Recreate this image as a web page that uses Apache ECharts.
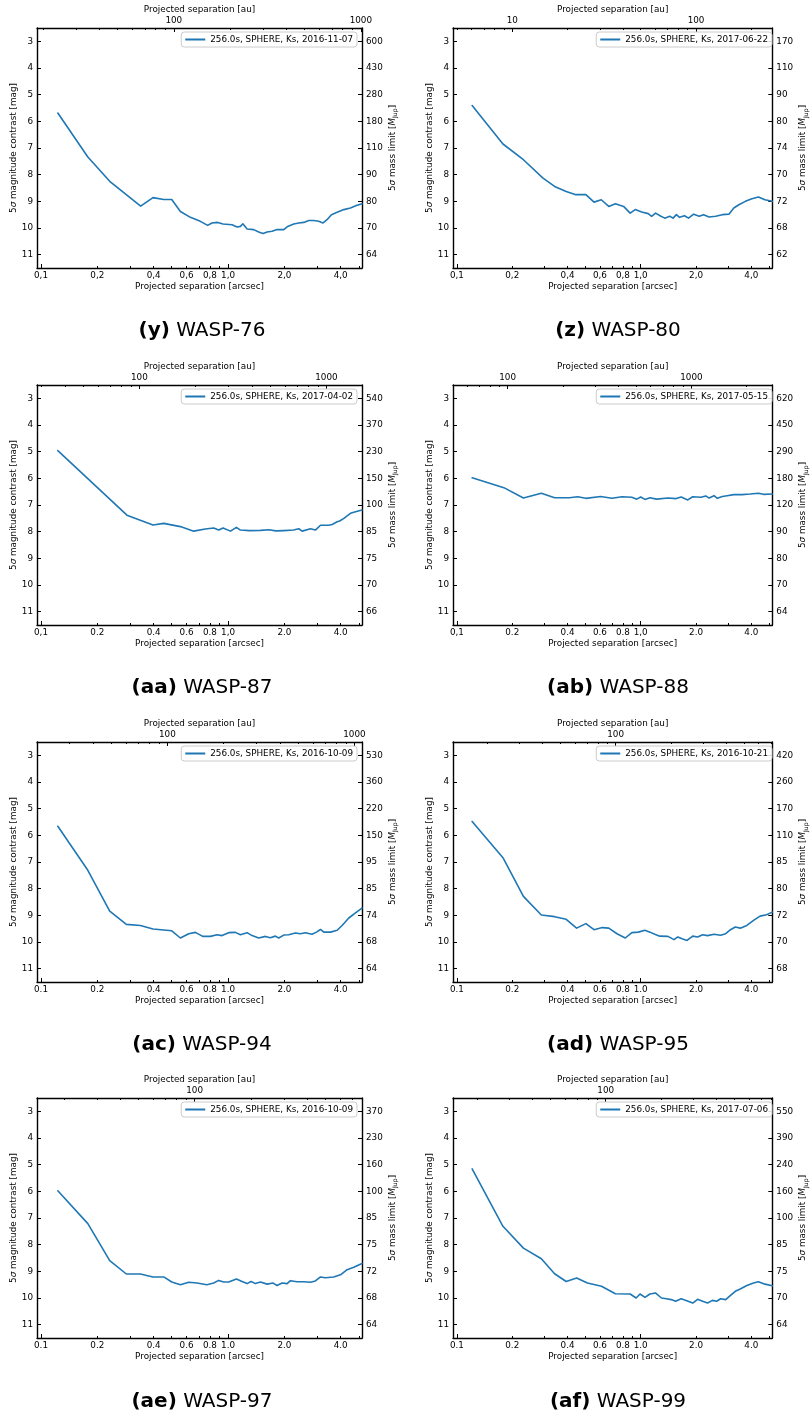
<!DOCTYPE html>
<html><head><meta charset="utf-8">
<script src="https://cdn.jsdelivr.net/npm/echarts@6/dist/echarts.min.js"></script>
<style>html,body{margin:0;padding:0;background:#fff}#c{width:810px;height:1419px}</style>
</head><body><div id="c"></div>
<script>
// ---------- data ----------
const sep_y = [0.123,0.178,0.233,0.341,0.397,0.453,0.500,0.556,0.629,0.711,0.778,0.820,0.880,0.940,1.05,1.117,1.164,1.20,1.264,1.371,1.458,1.538,1.617,1.719,1.828,1.985,2.083,2.244,2.387,2.436,2.54,2.70,2.87,2.93,3.05,3.22,3.38,3.57,3.83,4.16,4.51,4.85,5.2];
const mag_y = [5.69,7.34,8.25,9.18,8.86,8.93,8.93,9.38,9.60,9.75,9.90,9.81,9.79,9.85,9.88,9.96,9.94,9.84,10.04,10.06,10.15,10.21,10.15,10.12,10.06,10.06,9.94,9.85,9.81,9.75,9.79,9.72,9.72,9.66,9.75,9.81,9.69,9.50,9.41,9.31,9.25,9.16,9.09];
const sep_z = [0.121,0.178,0.230,0.294,0.340,0.393,0.444,0.503,0.557,0.610,0.670,0.728,0.807,0.876,0.933,1.012,1.099,1.146,1.205,1.288,1.352,1.439,1.50,1.563,1.627,1.731,1.82,1.942,2.081,2.198,2.356,2.558,2.78,3.02,3.21,3.42,3.71,4.03,4.37,4.74,5.2];
const mag_z = [5.41,6.85,7.44,8.13,8.44,8.63,8.75,8.75,9.03,8.94,9.19,9.09,9.19,9.44,9.31,9.40,9.46,9.56,9.44,9.56,9.63,9.56,9.63,9.50,9.60,9.54,9.63,9.48,9.56,9.50,9.59,9.56,9.50,9.48,9.25,9.13,9.00,8.90,8.84,8.94,9.00];
const sep_aa = [0.123,0.288,0.397,0.453,0.556,0.655,0.756,0.838,0.891,0.940,1.03,1.108,1.164,1.30,1.489,1.65,1.80,1.985,2.244,2.387,2.489,2.757,2.93,3.12,3.45,3.60,3.83,3.95,4.16,4.51,4.80,5.2];
const mag_aa = [4.96,7.38,7.75,7.69,7.81,7.98,7.90,7.86,7.94,7.86,7.98,7.84,7.94,7.96,7.95,7.93,7.97,7.96,7.94,7.89,7.98,7.89,7.94,7.76,7.76,7.73,7.63,7.60,7.50,7.31,7.25,7.19];
const sep_ab = [0.121,0.180,0.230,0.288,0.340,0.409,0.454,0.503,0.605,0.698,0.791,0.895,0.951,1.0,1.055,1.122,1.219,1.407,1.56,1.66,1.803,1.918,2.125,2.26,2.356,2.506,2.611,2.78,2.95,3.21,3.56,3.94,4.37,4.65,5.2];
const mag_ab = [5.98,6.35,6.74,6.56,6.73,6.73,6.69,6.75,6.68,6.75,6.69,6.71,6.78,6.70,6.79,6.73,6.78,6.74,6.76,6.70,6.81,6.69,6.71,6.66,6.74,6.65,6.75,6.68,6.65,6.61,6.61,6.59,6.56,6.60,6.59];
const sep_ac = [0.123,0.178,0.233,0.286,0.340,0.397,0.500,0.556,0.616,0.669,0.732,0.805,0.873,0.928,1.008,1.094,1.164,1.264,1.343,1.458,1.585,1.683,1.79,1.866,1.985,2.11,2.29,2.436,2.59,2.81,2.97,3.12,3.25,3.53,3.83,4.07,4.42,4.8,5.2];
const mag_ac = [5.66,7.31,8.84,9.34,9.38,9.51,9.58,9.85,9.69,9.64,9.79,9.79,9.73,9.76,9.65,9.64,9.73,9.65,9.76,9.85,9.79,9.84,9.78,9.85,9.74,9.73,9.66,9.69,9.65,9.71,9.63,9.53,9.63,9.63,9.56,9.38,9.10,8.91,8.73];
const sep_ad = [0.121,0.178,0.230,0.288,0.340,0.393,0.448,0.503,0.557,0.618,0.670,0.743,0.824,0.895,0.970,1.055,1.122,1.193,1.27,1.407,1.517,1.592,1.68,1.786,1.918,2.04,2.17,2.31,2.506,2.72,2.90,3.08,3.27,3.48,3.78,4.11,4.46,4.84,5.2];
const mag_ad = [5.48,6.84,8.29,8.99,9.05,9.15,9.48,9.31,9.54,9.46,9.48,9.69,9.85,9.65,9.63,9.56,9.63,9.71,9.78,9.79,9.91,9.81,9.88,9.94,9.78,9.81,9.73,9.76,9.71,9.75,9.69,9.54,9.44,9.48,9.38,9.19,9.03,8.98,8.88];
const sep_ae = [0.123,0.178,0.233,0.286,0.340,0.397,0.453,0.500,0.556,0.616,0.682,0.771,0.838,0.891,0.948,1.008,1.108,1.188,1.264,1.327,1.40,1.489,1.617,1.741,1.828,1.945,2.07,2.155,2.337,2.54,2.757,2.93,3.12,3.31,3.67,3.99,4.33,4.70,5.2];
const mag_ae = [5.98,7.21,8.60,9.10,9.10,9.21,9.21,9.40,9.50,9.41,9.44,9.50,9.44,9.34,9.40,9.40,9.29,9.38,9.46,9.38,9.46,9.40,9.48,9.44,9.53,9.44,9.46,9.35,9.39,9.39,9.41,9.36,9.21,9.24,9.21,9.13,8.94,8.85,8.71];
const sep_af = [0.121,0.178,0.230,0.288,0.340,0.393,0.448,0.513,0.612,0.728,0.876,0.944,0.991,1.055,1.122,1.202,1.297,1.38,1.466,1.549,1.66,1.766,1.918,2.04,2.17,2.31,2.455,2.59,2.72,2.90,3.08,3.27,3.48,3.78,4.11,4.37,4.74,5.2];
const mag_af = [5.16,7.31,8.13,8.53,9.09,9.38,9.25,9.44,9.56,9.84,9.85,10.0,9.85,9.98,9.85,9.81,10.0,10.03,10.06,10.12,10.03,10.09,10.19,10.05,10.12,10.19,10.09,10.12,10.03,10.06,9.90,9.75,9.66,9.53,9.44,9.39,9.48,9.54];

// right-axis mass labels (one per magnitude tick 3..11)
const mass_y  = ['600','430','280','180','110','90','80','70','64'];
const mass_z  = ['170','110','90','80','74','70','72','68','62'];
const mass_aa = ['540','370','230','150','100','85','75','70','66'];
const mass_ab = ['620','450','290','180','120','90','80','70','64'];
const mass_ac = ['530','360','220','150','95','85','74','68','64'];
const mass_ad = ['420','260','170','110','85','80','72','70','68'];
const mass_ae = ['370','230','160','100','85','75','72','68','64'];
const mass_af = ['550','390','240','160','100','85','75','70','64'];

// tick labels
const magTicks = [3,4,5,6,7,8,9,10,11];
const sepLabelVals = [0.1,0.2,0.4,0.6,0.8,1,2,4];
const xlabComma = ['0,1','0,2','0,4','0,6','0,8','1,0','2,0','4,0'];
const xlabMixed = ['0,1','0.2','0.4','0.6','0.8','1,0','2.0','4.0'];
const xlabDot   = ['0.1','0.2','0.4','0.6','0.8','1.0','2.0','4.0'];
const sepMajor = [0.1,1];
const sepMinor = [0.2,0.3,0.4,0.5,0.6,0.7,0.8,0.9,2,3,4,5];

// panels: label, star, date, distance [pc]
const panels = [
  {tag:'(y)',  star:'WASP-76', date:'2016-11-07', dist:195, sep:sep_y,  mag:mag_y,  mass:mass_y,  xl:xlabComma},
  {tag:'(z)',  star:'WASP-80', date:'2017-06-22', dist:50,  sep:sep_z,  mag:mag_z,  mass:mass_z,  xl:xlabComma},
  {tag:'(aa)', star:'WASP-87', date:'2017-04-02', dist:298, sep:sep_aa, mag:mag_aa, mass:mass_aa, xl:xlabMixed},
  {tag:'(ab)', star:'WASP-88', date:'2017-05-15', dist:530, sep:sep_ab, mag:mag_ab, mass:mass_ab, xl:xlabMixed},
  {tag:'(ac)', star:'WASP-94', date:'2016-10-09', dist:211, sep:sep_ac, mag:mag_ac, mass:mass_ac, xl:xlabDot},
  {tag:'(ad)', star:'WASP-95', date:'2016-10-21', dist:137, sep:sep_ad, mag:mag_ad, mass:mass_ad, xl:xlabDot},
  {tag:'(ae)', star:'WASP-97', date:'2016-10-09', dist:151, sep:sep_ae, mag:mag_ae, mass:mass_ae, xl:xlabDot},
  {tag:'(af)', star:'WASP-99', date:'2017-07-06', dist:155, sep:sep_af, mag:mag_af, mass:mass_af, xl:xlabDot}
];

// ---------- layout / style ----------
const FONT = 'DejaVu Sans', FS = 8.8, BLUE = '#1f77b4', INK = '#000';
const XMIN = 0.0952, XMAX = 5.2, YMIN = 2.5, YMAX = 11.5;
const colLeft = [37, 453], colWidth = [325, 324];
const rowTop = [28, 385, 742, 1098], plotH = 240;
const capX = [202, 618], capY = [331, 688, 1045, 1402];
const lg = Math.log10;
const txt = {fontSize: FS, fontFamily: FONT, color: INK};
const spine = {show: true, onZero: false, lineStyle: {color: INK, width: 1.4}};
const tickLine = {color: INK, width: 1};

function auTicks(d) {
  const lo = XMIN * d, hi = XMAX * d, maj = [], mn = [];
  for (let e = Math.floor(lg(lo)); e <= Math.ceil(lg(hi)); e++) {
    const b = Math.pow(10, e);
    if (b >= lo && b <= hi) maj.push(b);
    for (let m = 2; m <= 9; m++) { const v = m * b; if (v >= lo && v <= hi) mn.push(v); }
  }
  return {maj, mn};
}

const grid = [], xAxis = [], yAxis = [], series = [], legend = [], graphic = [];
panels.forEach((p, i) => {
  const col = i % 2, row = Math.floor(i / 2);
  const left = colLeft[col], width = colWidth[col], top = rowTop[row];
  grid.push({left: left, top: top, width: width, height: plotH});
  const xl = p.xl;
  // bottom main
  xAxis.push({
    type: 'value', gridIndex: i, position: 'bottom', min: lg(XMIN), max: lg(XMAX),
    axisLine: spine, splitLine: {show: false},
    axisTick: {show: true, inside: true, length: 4, customValues: sepMajor.map(lg), lineStyle: tickLine},
    axisLabel: Object.assign({show: true, margin: 3, customValues: sepLabelVals.map(lg),
      formatter: v => { const k = sepLabelVals.findIndex(s => Math.abs(lg(s) - v) < 1e-6); return k >= 0 ? xl[k] : ''; }}, txt),
    name: 'Projected separation [arcsec]', nameLocation: 'middle', nameGap: 14, nameTextStyle: txt
  });
  // bottom minor ticks
  xAxis.push({
    type: 'value', gridIndex: i, position: 'bottom', min: lg(XMIN), max: lg(XMAX),
    axisLine: {show: false, onZero: false}, splitLine: {show: false}, axisLabel: {show: false},
    axisTick: {show: true, inside: true, length: 2, customValues: sepMinor.map(lg), lineStyle: tickLine}
  });
  // top (au)
  const t = auTicks(p.dist);
  xAxis.push({
    type: 'value', gridIndex: i, position: 'top', min: lg(XMIN * p.dist), max: lg(XMAX * p.dist),
    axisLine: spine, splitLine: {show: false},
    axisTick: {show: true, inside: true, length: 4, customValues: t.maj.map(lg), lineStyle: tickLine},
    axisLabel: Object.assign({show: true, margin: 3, customValues: t.maj.map(lg),
      formatter: v => String(Math.round(Math.pow(10, v)))}, txt),
    name: 'Projected separation [au]', nameLocation: 'middle', nameGap: 14, nameTextStyle: txt
  });
  xAxis.push({
    type: 'value', gridIndex: i, position: 'top', min: lg(XMIN * p.dist), max: lg(XMAX * p.dist),
    axisLine: {show: false, onZero: false}, splitLine: {show: false}, axisLabel: {show: false},
    axisTick: {show: true, inside: true, length: 2, customValues: t.mn.map(lg), lineStyle: tickLine}
  });
  // left magnitude axis
  yAxis.push({
    type: 'value', gridIndex: i, position: 'left', inverse: true, min: YMIN, max: YMAX,
    axisLine: spine, splitLine: {show: false},
    axisTick: {show: true, inside: true, length: 4, customValues: magTicks, lineStyle: tickLine},
    axisLabel: Object.assign({show: true, margin: 4, customValues: magTicks}, txt),
    name: '5{i|σ} magnitude contrast [mag]', nameLocation: 'middle', nameRotate: 90, nameGap: 19,
    nameTextStyle: Object.assign({rich: {i: Object.assign({fontStyle: 'italic'}, txt)}}, txt)
  });
  // right mass axis
  const mass = p.mass;
  yAxis.push({
    type: 'value', gridIndex: i, position: 'right', inverse: true, min: YMIN, max: YMAX,
    axisLine: spine, splitLine: {show: false},
    axisTick: {show: true, inside: true, length: 4, customValues: magTicks, lineStyle: tickLine},
    axisLabel: Object.assign({show: true, margin: 4, customValues: magTicks,
      formatter: v => mass[Math.round(v) - 3] || ''}, txt),
    name: '5{i|σ} mass limit [{i|M}{s|Jup}]', nameLocation: 'middle', nameRotate: 90, nameGap: 21,
    nameTextStyle: Object.assign({lineHeight: 12, rich: {
      i: Object.assign({fontStyle: 'italic', lineHeight: 12}, txt),
      s: {fontSize: 6.2, fontFamily: FONT, color: INK, verticalAlign: 'bottom', lineHeight: 7}
    }}, txt)
  });
  const name = '256.0s, SPHERE, Ks, ' + p.date;
  series.push({
    type: 'line', name: name, xAxisIndex: 4 * i, yAxisIndex: 2 * i,
    data: p.sep.map((s, k) => [lg(s), p.mag[k]]),
    showSymbol: false, symbol: 'none', clip: true,
    lineStyle: {color: BLUE, width: 1.6, cap: 'round', join: 'round'}, itemStyle: {color: BLUE},
    emphasis: {disabled: true}
  });
  legend.push({
    data: [name], right: 810 - (left + width) + 5, top: top + 4, orient: 'horizontal',
    icon: 'rect', itemWidth: 20, itemHeight: 2, padding: [3, 4, 3, 4], itemGap: 0,
    backgroundColor: 'rgba(255,255,255,0.85)', borderColor: '#cccccc', borderWidth: 1, borderRadius: 3,
    textStyle: txt, selectedMode: false
  });
  graphic.push({
    type: 'text', x: capX[col], y: capY[row],
    style: {
      text: '{b|' + p.tag + '} ' + p.star, fill: INK, fontSize: 20, fontFamily: FONT,
      align: 'center', verticalAlign: 'middle', textAlign: 'center', textVerticalAlign: 'middle',
      rich: {b: {fontWeight: 'bold', fontSize: 20, fontFamily: FONT, fill: INK, color: INK}}
    }
  });
});

const chart = echarts.init(document.getElementById('c'), null, {renderer: 'canvas'});
chart.setOption({
  animation: false, backgroundColor: '#fff',
  grid, xAxis, yAxis, series, legend, graphic
});
</script>
</body></html>
